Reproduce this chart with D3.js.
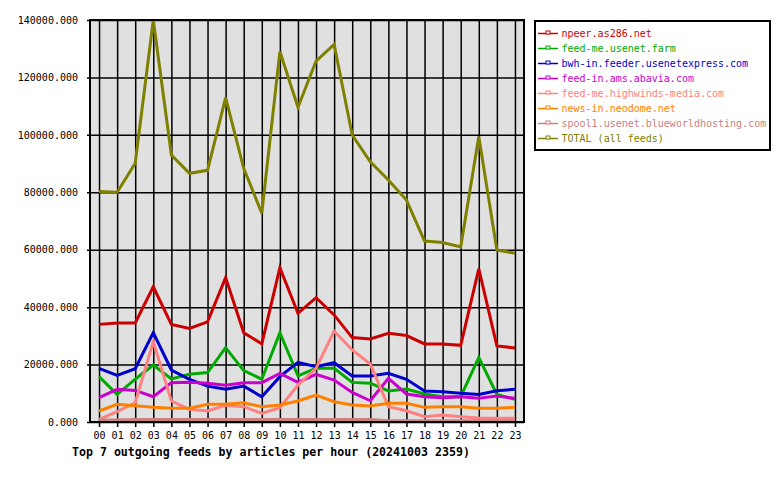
<!DOCTYPE html>
<html>
<head>
<meta charset="utf-8">
<script src="https://cdn.jsdelivr.net/npm/d3@7"></script>
<style>
  body { margin: 0; background: #ffffff; }
  text { font-family: "DejaVu Sans Mono", monospace; }
</style>
</head>
<body>
<div id="chart-div"></div>
<script>
const hours = ["00","01","02","03","04","05","06","07","08","09","10","11",
               "12","13","14","15","16","17","18","19","20","21","22","23"];

const feedNames = [
    "npeer.as286.net",
    "feed-me.usenet.farm",
    "bwh-in.feeder.usenetexpress.com",
    "feed-in.ams.abavia.com",
    "feed-me.highwinds-media.com",
    "news-in.neodome.net",
    "spool1.usenet.blueworldhosting.com",
    "TOTAL (all feeds)"
];

const feedColors = ["#cc0000", "#00aa00", "#0000cc", "#cc00cc", "#ff8080", "#ff8000", "#cc8080", "#808000"];

const npeer = [34000, 34500, 34500, 47100, 34000, 32600, 34900, 50300, 31100, 27200, 53700, 37850,
               43300, 37300, 29400, 28900, 30900, 30100, 27200, 27200, 26700, 53300, 26500, 25800];
const usenetFarm = [15800, 9600, 14900, 19850, 15000, 16600, 17200, 25900, 17900, 14900, 31100, 16100,
                    18700, 18700, 13800, 13500, 10800, 11500, 9750, 8800, 8800, 22500, 9600, 7900];
const usenetExpress = [18700, 16250, 18570, 31100, 18100, 14870, 12500, 11400, 12500, 8800, 15800, 20800,
                       19260, 20650, 16000, 16000, 16950, 14870, 10800, 10550, 10000, 9600, 10900, 11400];
const abavia = [8460, 11400, 11000, 8800, 13700, 13800, 13500, 12800, 13700, 13700, 16950, 13800,
                16600, 14600, 10300, 7400, 15200, 9750, 8800, 8460, 8800, 8240, 9050, 8240];
const highwinds = [930, 3600, 6700, 28000, 7300, 4400, 3830, 5800, 5330, 3000, 5000, 12900,
                   18700, 31700, 25100, 20200, 5330, 3930, 1850, 2440, 1850, 1390, 1280, 1280];
const neodome = [3830, 6150, 5680, 5100, 4760, 4760, 6150, 6150, 6700, 5330, 5900, 7300,
                 9400, 7070, 5900, 5570, 6500, 6500, 5100, 5330, 5330, 4760, 4760, 5100];
const blueworld = [700, 700, 900, 900, 900, 900, 900, 900, 900, 900, 900, 900,
                   900, 900, 900, 900, 400, 400, 400, 400, 400, 400, 400, 400];
const total = [80300, 80000, 90100, 140000, 93000, 86600, 87650, 113000, 88350, 72700, 129000, 109600,
               125700, 131500, 99950, 90600, 84300, 77300, 63000, 62500, 61000, 99400, 59900, 58750];

const yTicks = [0, 20000, 40000, 60000, 80000, 100000, 120000, 140000];

const seriesValues = [npeer, usenetFarm, usenetExpress, abavia, highwinds, neodome, blueworld, total];

const WIDTH = 780;
const HEIGHT = 480;
const PLOT_LEFT = 90;
const PLOT_RIGHT = 524;
const PLOT_TOP = 20;
const PLOT_BOTTOM = 422;

setup();

function setup() {
    let svg = d3.select("#chart-div")
        .append("svg")
        .attr("width", WIDTH)
        .attr("height", HEIGHT);

    let xScale = d3.scalePoint()
        .domain(hours)
        .range([PLOT_LEFT, PLOT_RIGHT])
        .padding(0.5);

    let yScale = d3.scaleLinear()
        .domain([0, 140000])
        .range([PLOT_BOTTOM, PLOT_TOP]);

    // plot background
    svg.append("rect")
        .attr("x", PLOT_LEFT)
        .attr("y", PLOT_TOP)
        .attr("width", PLOT_RIGHT - PLOT_LEFT)
        .attr("height", PLOT_BOTTOM - PLOT_TOP)
        .attr("fill", "#e0e0e0");

    // vertical grid + ticks
    svg.append("g")
        .attr("transform", "translate(0," + PLOT_BOTTOM + ")")
        .call(d3.axisBottom(xScale).tickSize(-(PLOT_BOTTOM - PLOT_TOP)).tickSizeOuter(0).tickPadding(10))
        .call(g => g.select(".domain").remove())
        .call(g => g.selectAll(".tick line").attr("stroke", "#000").attr("stroke-width", 1.5).attr("y2", -(PLOT_BOTTOM - PLOT_TOP)).attr("y1", 5))
        .call(g => g.selectAll(".tick text").attr("font-size", 10).attr("fill", "#000").attr("font-family", "DejaVu Sans Mono"));

    // horizontal grid + labels
    svg.append("g")
        .attr("transform", "translate(" + PLOT_LEFT + ",0)")
        .call(d3.axisLeft(yScale).tickValues(yTicks).tickFormat(d3.format(".3f")).tickSizeOuter(0).tickPadding(6))
        .call(g => g.select(".domain").remove())
        .call(g => g.selectAll(".tick line").attr("stroke", "#000").attr("stroke-width", 1.5).attr("x1", -3).attr("x2", PLOT_RIGHT - PLOT_LEFT))
        .call(g => g.selectAll(".tick text").attr("font-size", 10).attr("fill", "#000").attr("font-family", "DejaVu Sans Mono"));

    // series lines
    let line = d3.line()
        .x((d, i) => xScale(hours[i]))
        .y(d => yScale(d));

    svg.append("g")
        .selectAll("path")
        .data(seriesValues)
        .enter()
        .append("path")
        .attr("d", d => line(d))
        .attr("fill", "none")
        .attr("stroke", (d, i) => feedColors[i])
        .attr("stroke-width", 3)
        .attr("stroke-linejoin", "miter");

    // plot border
    svg.append("rect")
        .attr("x", PLOT_LEFT)
        .attr("y", PLOT_TOP)
        .attr("width", PLOT_RIGHT - PLOT_LEFT)
        .attr("height", PLOT_BOTTOM - PLOT_TOP)
        .attr("fill", "none")
        .attr("stroke", "#000")
        .attr("stroke-width", 2);

    // title under the chart
    svg.append("text")
        .attr("x", 72)
        .attr("y", 456)
        .attr("font-size", 11.6)
        .attr("font-weight", "bold")
        .attr("fill", "#000")
        .text("Top 7 outgoing feeds by articles per hour (20241003 2359)");

    // legend
    let legend = svg.append("g");
    legend.append("rect")
        .attr("x", 535)
        .attr("y", 21)
        .attr("width", 235)
        .attr("height", 129)
        .attr("fill", "#fff")
        .attr("stroke", "#000")
        .attr("stroke-width", 2);

    let items = legend.selectAll("g")
        .data(feedNames)
        .enter()
        .append("g")
        .attr("transform", (d, i) => "translate(0," + (33.5 + i * 15) + ")");

    items.append("line")
        .attr("x1", 538)
        .attr("x2", 558)
        .attr("y1", 0)
        .attr("y2", 0)
        .attr("stroke", (d, i) => feedColors[i])
        .attr("stroke-width", 1.5);

    items.append("rect")
        .attr("x", 546)
        .attr("y", -2.5)
        .attr("width", 4)
        .attr("height", 3)
        .attr("fill", "#fff")
        .attr("stroke", (d, i) => feedColors[i])
        .attr("stroke-width", 1);

    items.append("text")
        .attr("x", 561.5)
        .attr("y", 3.5)
        .attr("font-size", 10)
        .attr("fill", (d, i) => feedColors[i])
        .text(d => d);
}
</script>
</body>
</html>
